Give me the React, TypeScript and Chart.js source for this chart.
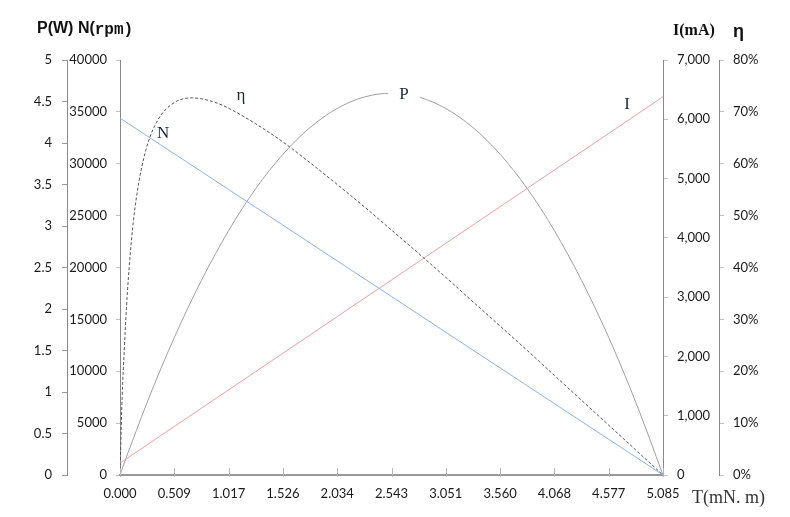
import React, { useEffect, useRef } from "react";
import { Chart, registerables } from "chart.js";
Chart.register(...registerables);

// Torque T (mN.m)
const torque = [0, 0.025, 0.051, 0.076, 0.102, 0.153, 0.254, 0.381, 0.509, 0.636, 0.763, 1.017, 1.271, 1.526, 1.78, 2.034, 2.288, 2.543, 2.797, 3.051, 3.305, 3.56, 3.814, 4.068, 4.322, 4.577, 4.831, 5.085];
// Speed N (rpm)
const speed = [34400, 34228, 34056, 33884, 33712, 33368, 32680, 31820, 30960, 30100, 29240, 27520, 25800, 24080, 22360, 20640, 18920, 17200, 15480, 13760, 12040, 10320, 8600, 6880, 5160, 3440, 1720, 0];
// Current I (mA)
const current = [200, 231, 262, 293, 324, 385, 509, 664, 818, 973, 1127, 1436, 1745, 2054, 2363, 2672, 2981, 3290, 3599, 3908, 4217, 4526, 4835, 5144, 5453, 5762, 6071, 6380];
// Output power P (W)
const power = [0, 0.092, 0.182, 0.272, 0.361, 0.535, 0.874, 1.277, 1.656, 2.013, 2.346, 2.944, 3.45, 3.864, 4.186, 4.416, 4.554, 4.6, 4.554, 4.416, 4.186, 3.864, 3.45, 2.944, 2.346, 1.656, 0.874, 0];
// Efficiency η: torque points and values (fraction)
const etaTorque = [0, 0.01, 0.02, 0.041, 0.061, 0.092, 0.127, 0.178, 0.254, 0.356, 0.509, 0.676, 0.864, 1.017, 1.271, 1.526, 1.78, 2.034, 2.288, 2.543, 2.797, 3.051, 3.305, 3.56, 3.814, 4.068, 4.322, 4.577, 4.831, 5.085];
const efficiency = [0, 0.08, 0.15, 0.245, 0.325, 0.416, 0.492, 0.566, 0.635, 0.685, 0.718, 0.727, 0.72, 0.707, 0.677, 0.642, 0.602, 0.56, 0.517, 0.472, 0.427, 0.381, 0.334, 0.287, 0.24, 0.192, 0.144, 0.096, 0.048, 0];

const xTickValues = [0, 0.5085, 1.017, 1.5255, 2.034, 2.5425, 3.051, 3.5595, 4.068, 4.5765, 5.085];
const xTickLabels = ["0.000", "0.509", "1.017", "1.526", "2.034", "2.543", "3.051", "3.560", "4.068", "4.577", "5.085"];

const curveNames = ["N", "η", "P", "I"];
const curveNameAxes = ["yN", "yE", "yP", "yI"];
const curveNameT = [0.403, 1.133, 2.66, 4.748];
const curveNameV = [32960, 0.7306, 4.578, 6241];

const TICK_FONT = { family: "Lato, 'Open Sans', sans-serif", size: 13 };
const TICK_COLOR = "#1a1a1a";

const textPlugin = {
  id: "texts",
  afterDatasetsDraw(chart: any) {
    const ctx = chart.ctx;
    const xs = chart.scales.x;
    ctx.save();
    // x-axis tick marks (pointing up into the plot)
    ctx.strokeStyle = "#b5b5b5";
    ctx.lineWidth = 1;
    for (const v of xTickValues) {
      const px = Math.round(xs.getPixelForValue(v)) + 0.5;
      ctx.beginPath();
      ctx.moveTo(px, xs.top - 7);
      ctx.lineTo(px, xs.top + 2);
      ctx.stroke();
    }
    ctx.font = "17px 'Liberation Serif', serif";
    ctx.textAlign = "center";
    ctx.textBaseline = "middle";
    for (let i = 0; i < curveNames.length; i++) {
      const px = xs.getPixelForValue(curveNameT[i]);
      const py = chart.scales[curveNameAxes[i]].getPixelForValue(curveNameV[i]);
      if (curveNames[i] === "P") {
        ctx.fillStyle = "#ffffff";
        ctx.fillRect(px - 16, py - 10, 32, 20);
      }
      ctx.fillStyle = "#1b2a3a";
      ctx.fillText(curveNames[i], px, py);
    }
    ctx.restore();
  },
  afterDraw(chart: any) {
    const ctx = chart.ctx;
    ctx.save();
    ctx.fillStyle = "#111";
    ctx.textBaseline = "middle";
    ctx.textAlign = "left";
    ctx.font = "bold 16px 'Liberation Sans', Arial, sans-serif";
    const t1 = "P(W) N(";
    ctx.fillText(t1, 37, 29);
    const w1 = ctx.measureText(t1).width;
    ctx.font = "bold 16px 'Liberation Mono', 'DejaVu Sans Mono', monospace";
    ctx.fillText("rpm)", 37 + w1, 30);
    ctx.font = "bold 16px 'Liberation Serif', serif";
    ctx.fillText("I(mA)", 673, 31);
    ctx.font = "bold 18px 'Liberation Sans', Arial, sans-serif";
    ctx.fillText("η", 733, 32);
    ctx.font = "18px 'Liberation Serif', serif";
    ctx.fillStyle = "#333";
    ctx.fillText("T(mN. m)", 692, 498);
    ctx.restore();
  },
};

export default function App() {
  const ref = useRef<HTMLCanvasElement | null>(null);
  useEffect(() => {
    document.body.style.margin = "0";
    const canvas = ref.current;
    if (!canvas) return;
    const mk = (xs: number[], vals: number[]) => xs.map((t, i) => ({ x: t, y: vals[i] }));
    const chart = new Chart(canvas, {
      type: "line",
      data: {
        datasets: [
          { label: "N", data: mk(torque, speed), yAxisID: "yN", borderColor: "#8db3e2", borderWidth: 1, pointRadius: 0, cubicInterpolationMode: "monotone" },
          { label: "I", data: mk(torque, current), yAxisID: "yI", borderColor: "#e6a3a3", borderWidth: 1, pointRadius: 0, cubicInterpolationMode: "monotone" },
          { label: "P", data: mk(torque, power), yAxisID: "yP", borderColor: "#a0a0a0", borderWidth: 1, pointRadius: 0, cubicInterpolationMode: "monotone" },
          { label: "η", data: mk(etaTorque, efficiency), yAxisID: "yE", borderColor: "#555555", borderWidth: 1, borderDash: [3, 2], pointRadius: 0, cubicInterpolationMode: "monotone" },
        ],
      } as any,
      options: {
        animation: false,
        responsive: false,
        layout: { padding: { top: 60, left: 0, right: 0, bottom: 0 } },
        plugins: { legend: { display: false }, tooltip: { enabled: false } },
        scales: {
          x: {
            type: "linear",
            min: 0,
            max: 5.085,
            afterBuildTicks: (s: any) => {
              s.ticks = xTickValues.map((v) => ({ value: v }));
            },
            afterFit: (s: any) => {
              s.height = 42;
            },
            ticks: {
              autoSkip: false,
              maxRotation: 0,
              padding: 11,
              font: TICK_FONT,
              color: TICK_COLOR,
              callback: (_v: any, i: number) => xTickLabels[i],
            },
            grid: { drawOnChartArea: false, drawTicks: false },
            border: { display: true, color: "#999", width: 2 },
          },
          yP: {
            position: "left",
            weight: 1,
            min: 0,
            max: 5,
            afterFit: (s: any) => {
              s.width = 67;
            },
            ticks: { stepSize: 0.5, padding: 10, font: TICK_FONT, color: TICK_COLOR, callback: (v: any) => String(v) },
            grid: { drawOnChartArea: false, drawTicks: true, tickLength: 5, color: "#999" },
            border: { display: true, color: "#888", width: 1 },
          },
          yN: {
            position: "left",
            weight: 0,
            min: 0,
            max: 40000,
            afterFit: (s: any) => {
              s.width = 53;
            },
            ticks: { stepSize: 5000, padding: 9, font: TICK_FONT, color: TICK_COLOR, callback: (v: any) => String(v) },
            grid: { drawOnChartArea: false, drawTicks: true, tickLength: 4, color: "#c0c0c0" },
            border: { display: true, color: "#888", width: 1 },
          },
          yI: {
            position: "right",
            weight: 0,
            min: 0,
            max: 7000,
            afterFit: (s: any) => {
              s.width = 56;
            },
            ticks: { stepSize: 1000, padding: 9, font: TICK_FONT, color: TICK_COLOR, callback: (v: any) => Number(v).toLocaleString("en-US") },
            grid: { drawOnChartArea: false, drawTicks: true, tickLength: 5, color: "#c0c0c0" },
            border: { display: true, color: "#888", width: 1 },
          },
          yE: {
            position: "right",
            weight: 1,
            min: 0,
            max: 0.8,
            afterFit: (s: any) => {
              s.width = 71;
            },
            ticks: { stepSize: 0.1, padding: 9, font: TICK_FONT, color: TICK_COLOR, callback: (v: any) => Math.round(Number(v) * 100) + "%" },
            grid: { drawOnChartArea: false, drawTicks: true, tickLength: 5, color: "#c0c0c0" },
            border: { display: true, color: "#888", width: 1 },
          },
        },
      } as any,
      plugins: [textPlugin],
    });
    return () => chart.destroy();
  }, []);
  return (
    <div style={{ width: 790, height: 517, background: "#fff" }}>
      <canvas ref={ref} width={790} height={517} style={{ width: 790, height: 517, display: "block" }} />
    </div>
  );
}
